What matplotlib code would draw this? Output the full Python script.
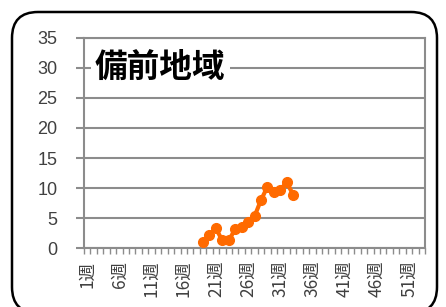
import matplotlib
matplotlib.use("Agg")
from matplotlib import pyplot as plt
from matplotlib.patches import FancyBboxPatch
import numpy as np

plt.rcParams['font.family'] = ['Noto Sans CJK JP', 'DejaVu Sans']

# data
weeks = list(range(1, 54))
data_weeks = list(range(19, 34))
values = [1.0, 2.2, 3.3, 1.3, 1.3, 3.2, 3.6, 4.3, 5.3, 8.0, 10.2, 9.3, 9.7, 11.0, 8.9]
label_weeks = [1, 6, 11, 16, 21, 26, 31, 36, 41, 46, 51]
y_ticks = [0, 5, 10, 15, 20, 25, 30, 35]
title = "備前地域"

fig = plt.figure(figsize=(4.46, 3.07), dpi=100)
ax = fig.add_axes([84 / 446, 1 - 248.3 / 307, 341 / 446, 210.6 / 307])

gray = '#8c8c8c'
txt = '#404040'

# category axis: week n sits at n - 0.5
x = np.array(data_weeks) - 0.5
ax.plot(x, values, color='#ff6a00', lw=3, marker='o', ms=7, zorder=3, clip_on=False)

ax.set_xlim(0, len(weeks))
ax.set_ylim(0, 35)
ax.set_yticks(y_ticks)
ax.set_yticklabels([str(v) for v in y_ticks], fontsize=13, color=txt, family=['Liberation Sans', 'DejaVu Sans'])
ax.grid(axis='y', color=gray, lw=1.5, zorder=0)

ax.set_xticks(np.arange(0, len(weeks) + 1), minor=True)
ax.set_xticks(np.array(label_weeks) - 0.5)
ax.set_xticklabels([f"{w}週" for w in label_weeks], rotation=90, fontsize=12.5, color=txt)
ax.tick_params(axis='x', which='major', length=0, pad=9)
ax.tick_params(axis='x', which='minor', length=4, width=1, color=gray)
ax.tick_params(axis='y', length=6, width=1.5, color=gray, pad=13)

for s in ['left', 'right', 'top', 'bottom']:
    ax.spines[s].set_color(gray)
    ax.spines[s].set_linewidth(1.5)

ax.text(0.032, 30 / 35, title, transform=ax.transAxes, fontsize=23.5, fontweight='bold',
        va='center', ha='left', color='black',
        bbox=dict(facecolor='white', edgecolor='none', pad=3), zorder=4)

box = FancyBboxPatch((12 / 100, -6 / 100), 425 / 100, 301 / 100,
                     boxstyle="round,pad=0,rounding_size=0.26",
                     transform=fig.dpi_scale_trans, facecolor='none',
                     edgecolor='black', lw=1.8)
fig.patches.append(box)

fig.savefig("out.png", dpi=100)
